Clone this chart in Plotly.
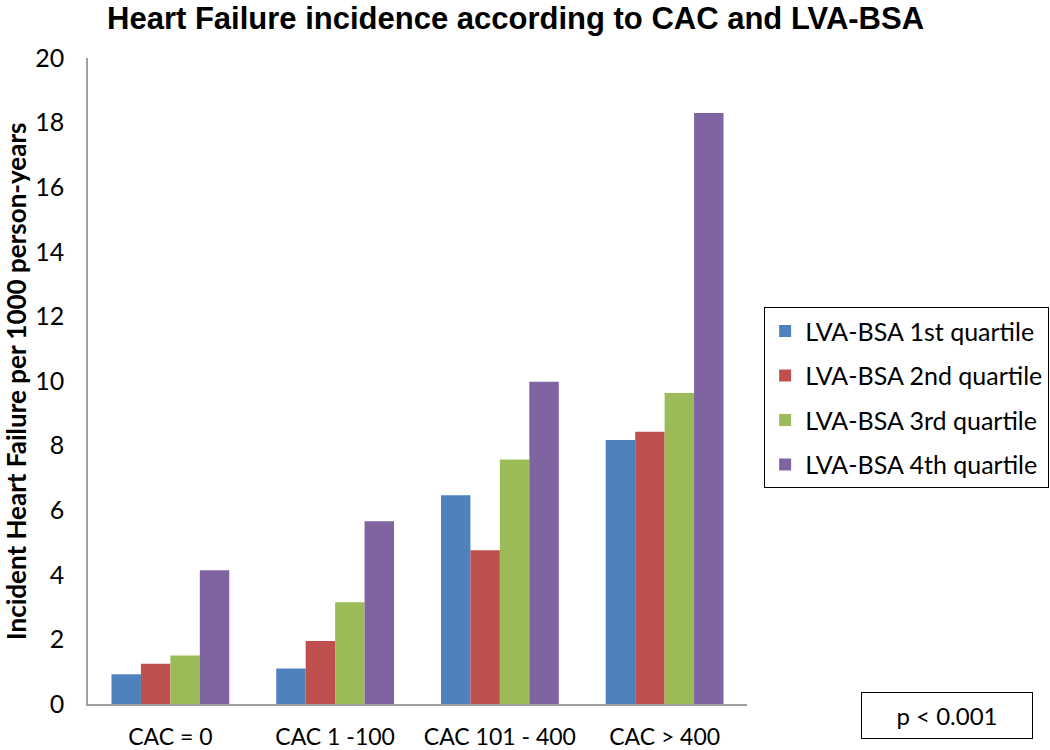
import plotly.graph_objects as go

categories = ["CAC = 0", "CAC 1 -100", "CAC 101 - 400", "CAC > 400"]
series_names = ["LVA-BSA 1st quartile", "LVA-BSA 2nd quartile",
                "LVA-BSA 3rd quartile", "LVA-BSA 4th quartile"]
q1 = [0.92, 1.10, 6.46, 8.17]
q2 = [1.25, 1.95, 4.76, 8.43]
q3 = [1.50, 3.15, 7.57, 9.63]
q4 = [4.14, 5.66, 9.98, 18.30]
colors = ["#4F81BD", "#C0504D", "#9BBB59", "#8064A2"]
y_ticks = [0, 2, 4, 6, 8, 10, 12, 14, 16, 18, 20]

fig = go.Figure()
for i, (name, vals) in enumerate(zip(series_names, [q1, q2, q3, q4])):
    fig.add_trace(go.Bar(x=categories, y=vals, name=name, legendgroup=f"g{i}",
                         marker=dict(color=colors[i], line=dict(width=0))))

fig.update_layout(
    width=1050, height=750,
    paper_bgcolor="white", plot_bgcolor="white",
    margin=dict(l=88, r=303, t=58, b=46, autoexpand=False),
    barmode="group", bargap=0.285, bargroupgap=0,
    title=dict(text="<b>Heart Failure incidence according to CAC and LVA-BSA</b>",
               x=0.491, xanchor="center", y=0.976, yanchor="middle",
               font=dict(family="Liberation Sans", size=31, color="black")),
    font=dict(family="Lato", color="black"),
    showlegend=True,
    legend=dict(x=1.026, y=0.614, xanchor="left", yanchor="top",
                bordercolor="black", borderwidth=1, bgcolor="white",
                font=dict(family="Lato", size=25, color="black"),
                tracegroupgap=9, traceorder="grouped"),
    xaxis=dict(showline=True, linecolor="#A0A0A0", linewidth=1.5,
               showgrid=False, ticks="", ticklabelstandoff=12, automargin=False,
               tickfont=dict(family="Lato", size=23, color="black")),
    yaxis=dict(range=[0, 20], tickvals=y_ticks, showline=True, automargin=False,
               linecolor="#A0A0A0", linewidth=1.5, showgrid=False,
               zeroline=False, ticks="", ticklabelstandoff=17,
               tickfont=dict(family="Lato", size=25, color="black")),
    annotations=[
        dict(text="<b>Incident Heart Failure per 1000 person-years</b>",
             xref="paper", yref="paper", x=0, y=0.5, xshift=-72,
             xanchor="center", yanchor="middle", textangle=-90, showarrow=False,
             font=dict(family="Lato", size=26, color="black")),
        dict(text="p < 0.001", xref="paper", yref="paper",
             x=1.303, y=-0.018, xanchor="center", yanchor="middle",
             showarrow=False, bordercolor="black", borderwidth=1,
             width=166, height=41, borderpad=2, bgcolor="white",
             font=dict(family="Lato", size=24, color="black")),
    ],
)

fig.write_html("out.html", config={"displayModeBar": False},
               post_script="document.body.style.margin='0px';")
